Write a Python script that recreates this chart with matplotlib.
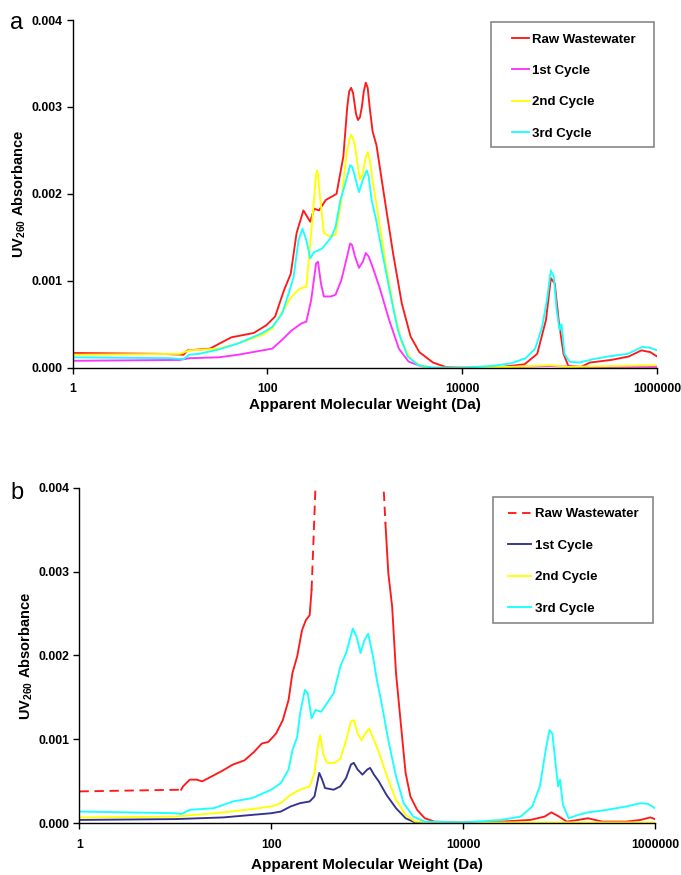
import numpy as np
import matplotlib
matplotlib.use("Agg")
import matplotlib.pyplot as plt
from matplotlib.patches import Rectangle
from matplotlib.ticker import FixedLocator, FixedFormatter, NullLocator

plt.rcParams['font.family'] = ['Liberation Sans', 'DejaVu Sans']
plt.rcParams['mathtext.fontset'] = 'custom'
plt.rcParams['mathtext.rm'] = 'Liberation Sans:bold'
plt.rcParams['mathtext.bf'] = 'Liberation Sans:bold'
plt.rcParams['lines.solid_joinstyle'] = 'round'
plt.rcParams['lines.dash_joinstyle'] = 'round'

# ============================================================================
# Data (x = log10 of apparent molecular weight, y = UV260 absorbance)
# ============================================================================

# --- panel a ---
a_raw_lx = [0, 0.9, 1.14, 1.18, 1.41, 1.63, 1.86, 1.99, 2.08, 2.17, 2.24, 2.30, 2.37, 2.44,
            2.48, 2.53, 2.60, 2.71, 2.78, 2.82, 2.84, 2.86, 2.88, 2.91, 2.93, 2.95, 2.97,
            2.99, 3.01, 3.03, 3.05, 3.08, 3.12, 3.20, 3.29, 3.38, 3.47, 3.56, 3.70, 3.83,
            4.0, 4.41, 4.64, 4.77, 4.86, 4.91, 4.95, 4.99, 5.04, 5.09, 5.22, 5.31, 5.53,
            5.71, 5.84, 5.93, 6.0]
a_raw_y = [0.00017, 0.00016, 0.00015, 0.00020, 0.00022, 0.00035, 0.00040, 0.00049, 0.00059,
           0.00089, 0.00108, 0.00155, 0.00181, 0.00168, 0.00183, 0.00181, 0.00193, 0.00200,
           0.00243, 0.00300, 0.00318, 0.00322, 0.00316, 0.00292, 0.00285, 0.00288, 0.00300,
           0.00318, 0.00328, 0.00322, 0.00300, 0.00272, 0.00256, 0.00197, 0.00132, 0.00074,
           0.00036, 0.00018, 0.00006, 0.00001, 0.0, 0.00001, 0.00004, 0.00016, 0.00055,
           0.00103, 0.00097, 0.00055, 0.00016, 0.00002, 0.00001, 0.00006, 0.00009, 0.00013,
           0.00020, 0.00018, 0.00013]

a_c1_lx = [0, 1.1, 1.2, 1.5, 1.7, 1.95, 2.05, 2.15, 2.25, 2.35, 2.40, 2.45, 2.50, 2.52, 2.55,
           2.58, 2.65, 2.70, 2.76, 2.81, 2.85, 2.87, 2.90, 2.94, 2.98, 3.01, 3.04, 3.08,
           3.15, 3.25, 3.35, 3.45, 3.6, 3.7, 4.5, 4.9, 5.2, 6.0]
a_c1_y = [0.00008, 0.00009, 0.00011, 0.00012, 0.00015, 0.00020, 0.00022, 0.00032, 0.00043,
          0.00051, 0.00053, 0.00078, 0.00120, 0.00122, 0.00097, 0.00082, 0.00082, 0.00084,
          0.00101, 0.00124, 0.00143, 0.00141, 0.00128, 0.00115, 0.00122, 0.00132, 0.00128,
          0.00116, 0.00093, 0.00055, 0.00022, 0.00007, 0.00001, 0.0, 0.00001, 0.00002,
          0.00001, 0.00001]

a_c2_lx = [0, 1.1, 1.2, 1.5, 1.7, 1.95, 2.05, 2.15, 2.25, 2.33, 2.40, 2.45, 2.49, 2.50, 2.51,
           2.52, 2.54, 2.58, 2.64, 2.70, 2.76, 2.81, 2.84, 2.86, 2.88, 2.90, 2.95, 2.98,
           3.01, 3.03, 3.05, 3.08, 3.14, 3.22, 3.30, 3.38, 3.48, 3.6, 3.7, 4.5, 4.9, 5.1,
           6.0]
a_c2_y = [0.00015, 0.00016, 0.00020, 0.00022, 0.00028, 0.00038, 0.00045, 0.00064, 0.00082,
          0.00091, 0.00093, 0.00155, 0.00208, 0.00222, 0.00227, 0.00222, 0.00197, 0.00155,
          0.00151, 0.00153, 0.00193, 0.00243, 0.00262, 0.00268, 0.00264, 0.00254, 0.00216,
          0.00224, 0.00242, 0.00248, 0.00240, 0.00216, 0.00174, 0.00116, 0.00066, 0.00028,
          0.00009, 0.00001, 0.0, 0.00001, 0.00003, 0.00001, 0.00003]

a_c3_lx = [0, 1.0, 1.14, 1.2, 1.3, 1.5, 1.7, 1.95, 2.05, 2.15, 2.22, 2.27, 2.32, 2.36, 2.40,
           2.44, 2.48, 2.52, 2.56, 2.62, 2.66, 2.70, 2.75, 2.80, 2.85, 2.87, 2.89, 2.94,
           2.98, 3.02, 3.04, 3.07, 3.12, 3.18, 3.26, 3.34, 3.44, 3.55, 3.7, 4.0, 4.3, 4.5,
           4.65, 4.75, 4.82, 4.87, 4.91, 4.94, 4.97, 5.00, 5.02, 5.05, 5.10, 5.2, 5.35,
           5.5, 5.7, 5.85, 5.93, 6.0]
a_c3_y = [0.00012, 0.00011, 0.00010, 0.00015, 0.00016, 0.00021, 0.00028, 0.00040, 0.00047,
          0.00062, 0.00086, 0.00105, 0.00147, 0.00160, 0.00147, 0.00126, 0.00133, 0.00135,
          0.00137, 0.00145, 0.00151, 0.00162, 0.00193, 0.00212, 0.00233, 0.00231, 0.00224,
          0.00202, 0.00216, 0.00227, 0.00220, 0.00193, 0.00168, 0.00132, 0.00086, 0.00043,
          0.00013, 0.00003, 0.0, 0.0, 0.00002, 0.00005, 0.00011, 0.00022, 0.00047, 0.00078,
          0.00112, 0.00105, 0.00066, 0.00043, 0.00050, 0.00016, 0.00007, 0.00006, 0.00010,
          0.00013, 0.00016, 0.00024, 0.00023, 0.00020]

# --- panel b ---
b_raw_lx = [0, 1.06, 1.08, 1.15, 1.22, 1.28, 1.38, 1.48, 1.60, 1.72, 1.82, 1.90, 1.97, 2.05,
            2.12, 2.18, 2.22, 2.27, 2.32, 2.36, 2.40, 2.42, 2.44, 2.46, 2.50, 2.61, 2.70,
            2.85, 2.93, 3.01, 3.10, 3.17, 3.19, 3.22, 3.26, 3.30, 3.35, 3.40, 3.45, 3.52,
            3.60, 3.70, 4.0, 4.4, 4.7, 4.85, 4.92, 5.0, 5.08, 5.2, 5.3, 5.45, 5.7, 5.85,
            5.95, 6.0]
b_raw_y = [0.00038, 0.00040, 0.00044, 0.00052, 0.00052, 0.00050, 0.00056, 0.00062, 0.00070,
           0.00075, 0.00085, 0.00095, 0.00097, 0.00107, 0.00123, 0.00147, 0.00179, 0.00199,
           0.00230, 0.00242, 0.00248, 0.00278, 0.00338, 0.00400, 0.00480, 0.00402, 0.00520,
           0.00650, 0.00580, 0.00660, 0.00520, 0.00402, 0.00357, 0.00298, 0.00258, 0.00179,
           0.00119, 0.00060, 0.00032, 0.00016, 0.00006, 0.00002, 0.00001, 0.00002, 0.00004,
           0.00008, 0.00013, 0.00008, 0.00002, 0.00004, 0.00006, 0.00002, 0.00002, 0.00004,
           0.00007, 0.00005]

b_c1_lx = [0, 1.0, 1.5, 1.8, 2.0, 2.1, 2.2, 2.3, 2.4, 2.45, 2.50, 2.53, 2.56, 2.65, 2.72,
           2.78, 2.83, 2.86, 2.90, 2.95, 3.00, 3.03, 3.07, 3.12, 3.20, 3.30, 3.40, 3.5,
           3.7, 6.0]
b_c1_y = [0.00004, 0.00005, 0.00007, 0.00010, 0.00012, 0.00014, 0.00020, 0.00024, 0.00026,
          0.00032, 0.00060, 0.00052, 0.00042, 0.00040, 0.00044, 0.00054, 0.00070, 0.00072,
          0.00064, 0.00058, 0.00064, 0.00066, 0.00058, 0.00050, 0.00034, 0.00018, 0.00006,
          0.00001, 0.0, 0.0]

b_c2_lx = [0, 1.0, 1.5, 1.8, 2.0, 2.1, 2.2, 2.3, 2.4, 2.45, 2.49, 2.51, 2.54, 2.58, 2.66,
           2.72, 2.78, 2.83, 2.86, 2.90, 2.94, 2.98, 3.02, 3.07, 3.12, 3.20, 3.30, 3.40,
           3.5, 3.7, 6.0]
b_c2_y = [0.00007, 0.00008, 0.00013, 0.00017, 0.00020, 0.00024, 0.00034, 0.00040, 0.00044,
          0.00060, 0.00095, 0.00105, 0.00083, 0.00072, 0.00072, 0.00077, 0.00099, 0.00121,
          0.00123, 0.00107, 0.00099, 0.00107, 0.00113, 0.00099, 0.00085, 0.00058, 0.00028,
          0.00010, 0.00002, 0.00001, 0.00001]

b_c3_lx = [0, 1.0, 1.06, 1.15, 1.4, 1.6, 1.8, 2.0, 2.1, 2.18, 2.22, 2.27, 2.30, 2.35, 2.38,
           2.42, 2.46, 2.52, 2.58, 2.65, 2.72, 2.78, 2.85, 2.89, 2.93, 2.97, 3.01, 3.06,
           3.10, 3.15, 3.22, 3.30, 3.38, 3.48, 3.6, 4.0, 4.4, 4.6, 4.72, 4.80, 4.86, 4.90,
           4.93, 4.96, 4.99, 5.01, 5.04, 5.10, 5.2, 5.3, 5.5, 5.7, 5.85, 5.93, 6.0]
b_c3_y = [0.00014, 0.00012, 0.00011, 0.00016, 0.00018, 0.00026, 0.00030, 0.00040, 0.00048,
          0.00064, 0.00087, 0.00103, 0.00131, 0.00159, 0.00155, 0.00125, 0.00135, 0.00133,
          0.00143, 0.00155, 0.00187, 0.00203, 0.00232, 0.00222, 0.00203, 0.00218, 0.00226,
          0.00199, 0.00171, 0.00143, 0.00099, 0.00056, 0.00024, 0.00008, 0.00002, 0.00001,
          0.00004, 0.00008, 0.00020, 0.00044, 0.00087, 0.00111, 0.00107, 0.00075, 0.00044,
          0.00052, 0.00022, 0.00006, 0.00010, 0.00013, 0.00016, 0.00020, 0.00024, 0.00023,
          0.00018]

labels = ["Raw Wastewater", "1st Cycle", "2nd Cycle", "3rd Cycle"]
x_ticks = [1, 100, 10000, 1000000]
x_tick_labels = ["1", "100", "10000", "1000000"]
y_ticks = [0.000, 0.001, 0.002, 0.003, 0.004]

RED = "#ff1a1a"
MAGENTA = "#ff33ff"
YELLOW = "#ffff00"
CYAN = "#1affff"
NAVY = "#33338f"
LW = 1.35


def mw(lx):
    return 10 ** np.asarray(lx)


def style_axes(ax, xlabelpad):
    ax.set_xscale('log')
    ax.set_xlim(1, 1e6)
    ax.set_ylim(0, 0.004)
    ax.xaxis.set_major_locator(FixedLocator(x_ticks))
    ax.xaxis.set_major_formatter(FixedFormatter(x_tick_labels))
    ax.xaxis.set_minor_locator(NullLocator())
    ax.set_yticks(y_ticks)
    ax.set_yticklabels([f"{v:.3f}" for v in y_ticks])
    for s in ("top", "right"):
        ax.spines[s].set_visible(False)
    for s in ("left", "bottom"):
        ax.spines[s].set_linewidth(1.0)
    ax.tick_params(axis='both', direction='out', length=4, width=1, labelsize=8.8)
    ax.tick_params(axis='x', pad=7)
    for lab in ax.get_xticklabels() + ax.get_yticklabels():
        lab.set_fontweight('bold')
    ax.set_xlabel("Apparent Molecular Weight (Da)", fontsize=11, fontweight='bold',
                  labelpad=xlabelpad)
    ax.set_ylabel(r"UV$_{\mathbf{260}}$ Absorbance", fontsize=10.5, fontweight='bold',
                  labelpad=2.5)


def add_legend(ax, handles, frame_box, anchor, handlelength):
    # gray square frame drawn separately so its padding can match the original
    x0, y0, x1, y1 = frame_box
    ax.add_patch(Rectangle((x0, y0), x1 - x0, y1 - y0, transform=ax.transAxes,
                           facecolor='white', edgecolor='#888888', lw=1.2,
                           zorder=5, clip_on=False))
    leg = ax.legend(handles=handles, labels=labels, loc='upper right', bbox_to_anchor=anchor,
                    prop={'weight': 'bold', 'size': 9.5}, handlelength=handlelength,
                    handletextpad=0.25, labelspacing=1.45, borderpad=0.85,
                    frameon=False, borderaxespad=0)
    leg.set_zorder(6)


fig = plt.figure(figsize=(6.81, 8.75), dpi=100)

# ============================================================================
# Panel a
# ============================================================================
ax_a = fig.add_axes([0.1065, 0.5797, 0.8583, 0.3974])
h1, = ax_a.plot(mw(a_raw_lx), a_raw_y, color=RED, lw=LW)
h2, = ax_a.plot(mw(a_c1_lx), a_c1_y, color=MAGENTA, lw=LW)
h3, = ax_a.plot(mw(a_c2_lx), a_c2_y, color=YELLOW, lw=LW)
h4, = ax_a.plot(mw(a_c3_lx), a_c3_y, color=CYAN, lw=LW)
style_axes(ax_a, 2)
add_legend(ax_a, [h1, h2, h3, h4], (0.716, 0.635, 0.995, 0.994), (0.983, 0.994), 1.3)

# ============================================================================
# Panel b
# ============================================================================
ax_b = fig.add_axes([0.1167, 0.0591, 0.8451, 0.3836])
b_lx = np.asarray(b_raw_lx)
b_y = np.asarray(b_raw_y)
# raw wastewater: dashed where the trace is flat / off-scale, solid elsewhere
dashed_a = b_lx <= 1.06
solid_a = (b_lx >= 1.06) & (b_lx <= 2.42)
dashed_b = (b_lx >= 2.42) & (b_lx <= 3.19)
solid_b = b_lx >= 3.19
ax_b.plot(mw(b_lx[dashed_a]), b_y[dashed_a], color=RED, lw=LW, ls=(0, (5, 3)))
ax_b.plot(mw(b_lx[solid_a]), b_y[solid_a], color=RED, lw=LW)
ax_b.plot(mw(b_lx[dashed_b]), b_y[dashed_b], color=RED, lw=LW, ls=(0, (5, 3)))
ax_b.plot(mw(b_lx[solid_b]), b_y[solid_b], color=RED, lw=LW)
g2, = ax_b.plot(mw(b_c1_lx), b_c1_y, color=NAVY, lw=LW)
g3, = ax_b.plot(mw(b_c2_lx), b_c2_y, color=YELLOW, lw=LW)
g4, = ax_b.plot(mw(b_c3_lx), b_c3_y, color=CYAN, lw=LW)
g1 = plt.Line2D([], [], color=RED, lw=LW, ls=(0, (4.5, 3)))
style_axes(ax_b, 5)
add_legend(ax_b, [g1, g2, g3, g4], (0.7185, 0.597, 0.9965, 0.972), (0.9905, 0.972), 1.8)

# panel letters
fig.text(17 / 681, 1 - 23 / 875, "a", fontsize=17, ha='center', va='center')
fig.text(17 / 681, 1 - 493 / 875, "b", fontsize=17, ha='center', va='center')

fig.savefig("out.png", dpi=100)
